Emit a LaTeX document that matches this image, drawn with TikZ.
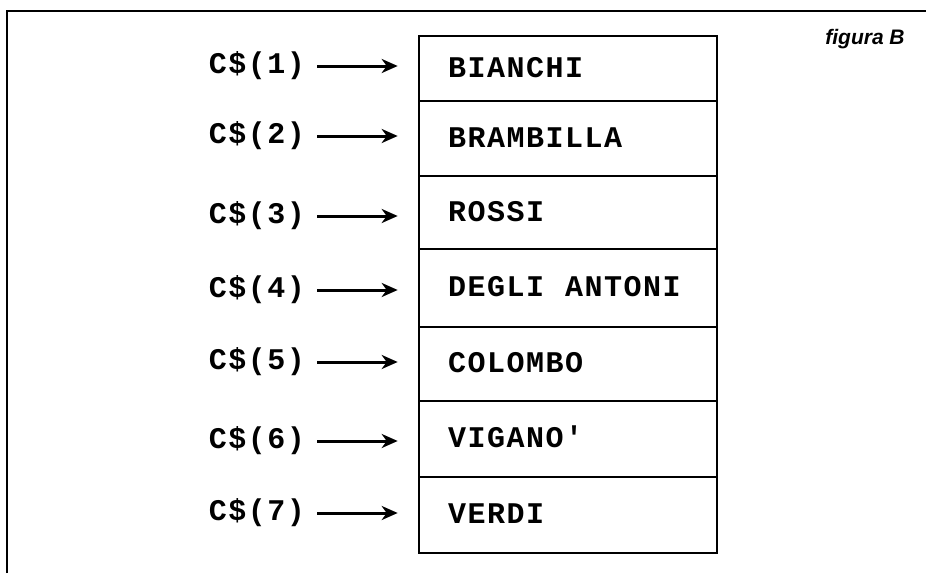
\documentclass[tikz,border=0pt]{standalone}
\usepackage{fontspec}
\usetikzlibrary{arrows.meta}
\newfontfamily\tw[LetterSpace=5]{Liberation Mono}
\newfontfamily\capfont{Liberation Sans}
\begin{document}
\begin{tikzpicture}[x=1pt,y=-1pt,
  frame/.style={line width=2.2pt},
  cell/.style={draw, line width=2.6pt, minimum width=298pt, inner xsep=29pt, inner ysep=0pt,
    text width=240pt, align=left, font=\tw\fontsize{30pt}{32pt}\selectfont\bfseries,
    text height=17pt, text depth=0pt},
  lab/.style={anchor=east, inner sep=0pt, font=\tw\fontsize{30pt}{32pt}\selectfont\bfseries},
  arr/.style={line width=3pt, -{Stealth[length=16pt,width=14pt,inset=5pt]}},
  fig/.style={font=\capfont\fontsize{21pt}{23pt}\selectfont\bfseries\itshape, inner sep=0pt}]
\useasboundingbox (0,0) rectangle (926,573);
% frame
\coordinate (ftl) at (7,11);
\coordinate (ftr) at (926,11);
\coordinate (fbl) at (7,573);
\draw[frame] (fbl) -- (ftl) -- (ftr);
\node[fig] (title) at (865,39) {figura B};
% cells
\node[cell, minimum height=65pt] (r1) at (568,68.5) {BIANCHI};
\node[cell, minimum height=75pt] (r2) at (568,138.5) {BRAMBILLA};
\node[cell, minimum height=73pt] (r3) at (568,212.5) {ROSSI};
\node[cell, minimum height=78pt] (r4) at (568,288) {DEGLI\hspace{21pt}ANTONI};
\node[cell, minimum height=74pt] (r5) at (568,364) {COLOMBO};
\node[cell, minimum height=76pt] (r6) at (568,439) {VIGANO'};
\node[cell, minimum height=76pt] (r7) at (568,515) {VERDI};
% labels
\node[lab] (l1) at (305,66) {C\$(1)};
\node[lab] (l2) at (305,136) {C\$(2)};
\node[lab] (l3) at (305,216) {C\$(3)};
\node[lab] (l4) at (305,290) {C\$(4)};
\node[lab] (l5) at (305,362) {C\$(5)};
\node[lab] (l6) at (305,441) {C\$(6)};
\node[lab] (l7) at (305,513) {C\$(7)};
% arrows
\foreach \i in {1,...,7}{
  \draw[arr] ([xshift=12pt]l\i.east) -- ([xshift=-20pt]l\i.east -| r\i.west);
}
\end{tikzpicture}
\end{document}
